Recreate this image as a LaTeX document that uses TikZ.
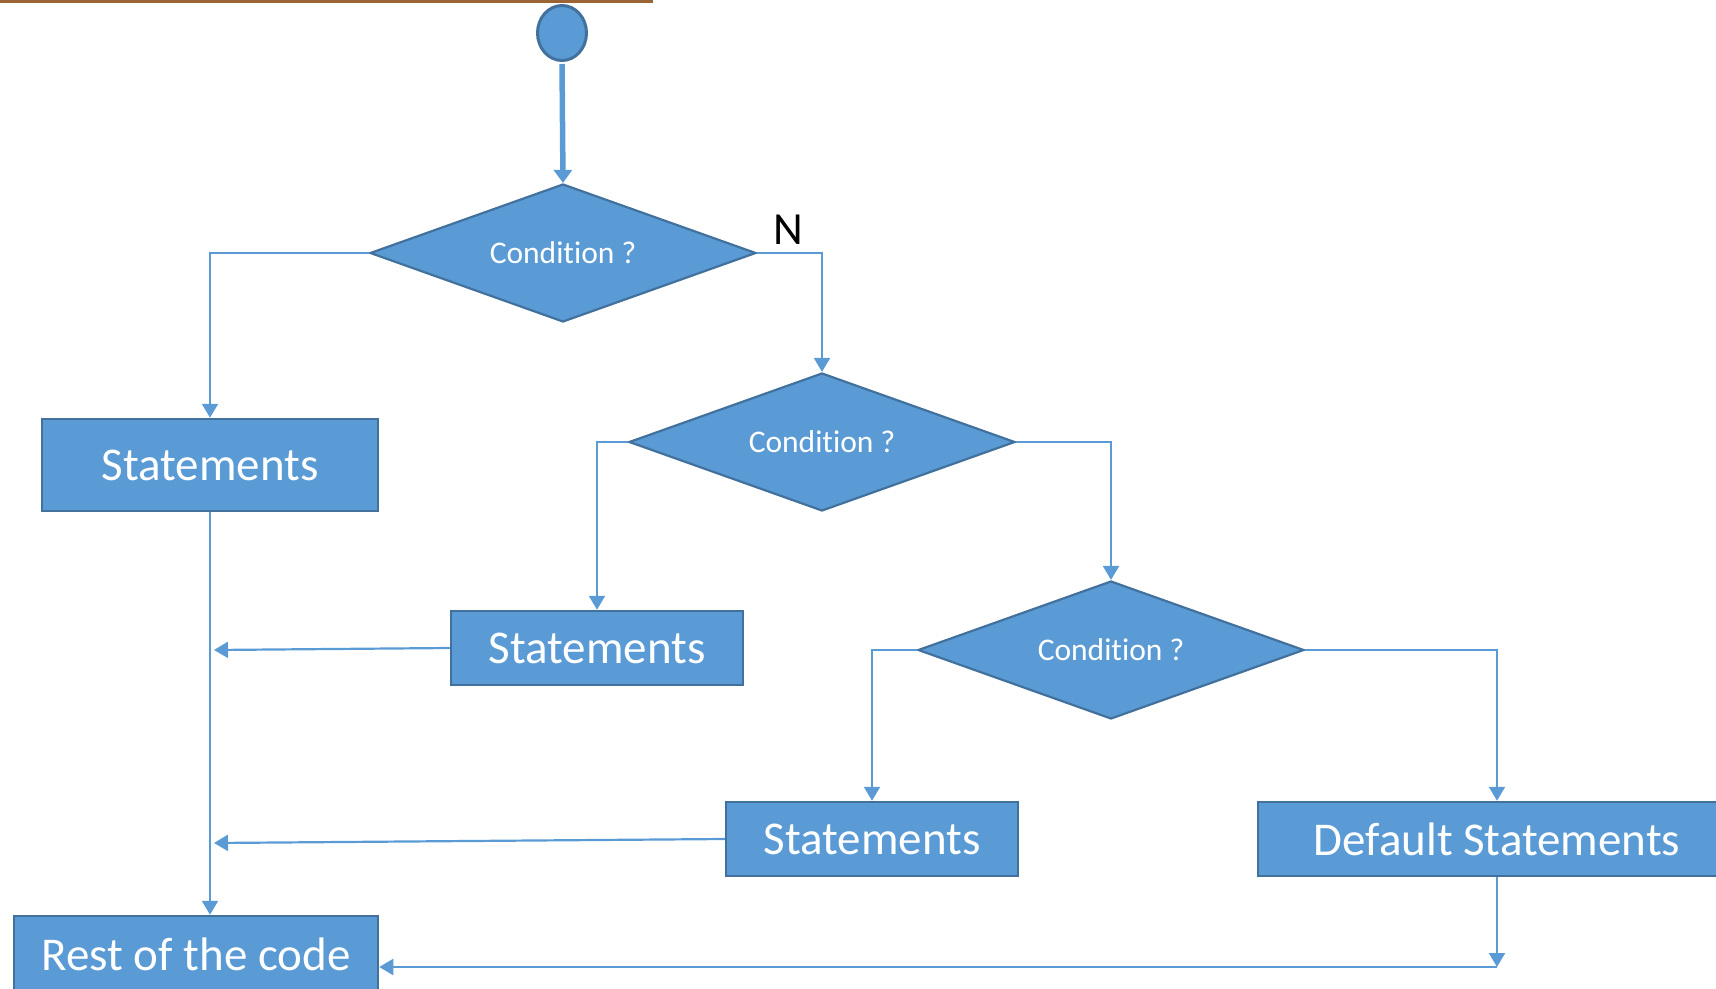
\documentclass[tikz,border=0pt]{standalone}
\usepackage{fontspec}
\setmainfont[Ligatures=CommonOff]{Carlito}
\usepackage{tikz}
\usetikzlibrary{shapes.geometric,arrows.meta}
\definecolor{fillblue}{HTML}{5B9BD5}
\definecolor{edgeblue}{HTML}{41719C}
\definecolor{topbar}{HTML}{9A6434}
\tikzset{
  cond/.style={diamond, aspect=2.8, draw=edgeblue, fill=fillblue, line width=2.2pt, inner sep=0pt,
    minimum width=386pt, minimum height=138pt, text=white, font=\fontsize{31.5}{38}\selectfont},
  stmt/.style={rectangle, draw=edgeblue, fill=fillblue, line width=2.5pt, inner sep=0pt,
    minimum height=74pt, text=white, font=\fontsize{47}{56}\selectfont},
  startdot/.style={ellipse, draw=edgeblue, fill=fillblue, line width=3pt, inner sep=0pt,
    minimum width=49pt, minimum height=55pt},
  flow/.style={draw=fillblue, line width=2.2pt, -{Triangle[length=14pt,width=16pt]}},
  bigflow/.style={draw=fillblue, line width=5.5pt, -{Triangle[length=13pt,width=18pt]}},
  lab/.style={text=black, font=\fontsize{46}{55}\selectfont},
}

\begin{document}
\begin{tikzpicture}[x=1pt,y=-1pt]
  \clip (0,0) rectangle (1716,988);
  \fill[topbar] (0,0) rectangle (653,2.5);

  \node[startdot] (start) at (562,33) {};

  \node[cond] (c1) at (563,253) {Condition ?};
  \node[cond] (c2) at (822,442) {Condition ?};
  \node[cond] (c3) at (1111,650) {Condition ?};

  \node[stmt, minimum width=336pt, minimum height=92pt] (s1) at (210,465) {Statements};
  \node[stmt, minimum width=292pt] (s2) at (597,648) {Statements};
  \node[stmt, minimum width=292pt] (s3) at (872,839) {Statements};
  \node[stmt, minimum width=478pt] (dflt) at (1497,839) {Default Statements};
  \node[stmt, minimum width=364pt, minimum height=76pt] (rest) at (196,954) {Rest of the code};

  \node[lab] (nlab) at (788,230) {N};

  \coordinate (m2) at (214,650); % join on the left line
  \coordinate (m3) at (214,843);
  \coordinate (j) at (1497,967); % below default

  \draw[bigflow, shorten <=2pt] (start.south) -- (c1.north);
  \draw[flow] (c1.west) -| (s1.north);
  \draw[flow] (c1.east) -| (c2.north);
  \draw[flow] (c2.west) -| (s2.north);
  \draw[flow] (c2.east) -| (c3.north);
  \draw[flow] (c3.west) -| (s3.north);
  \draw[flow] (c3.east) -| (dflt.north);

  \draw[flow] (s1.south) -- (s1.south |- rest.north);
  \draw[flow] (s2.west) -- (m2);
  \draw[flow] (s3.west) -- (m3);
  \draw[flow] (dflt.south) -- (j);
  \draw[flow] (j) -- (j -| rest.east);
\end{tikzpicture}
\end{document}
